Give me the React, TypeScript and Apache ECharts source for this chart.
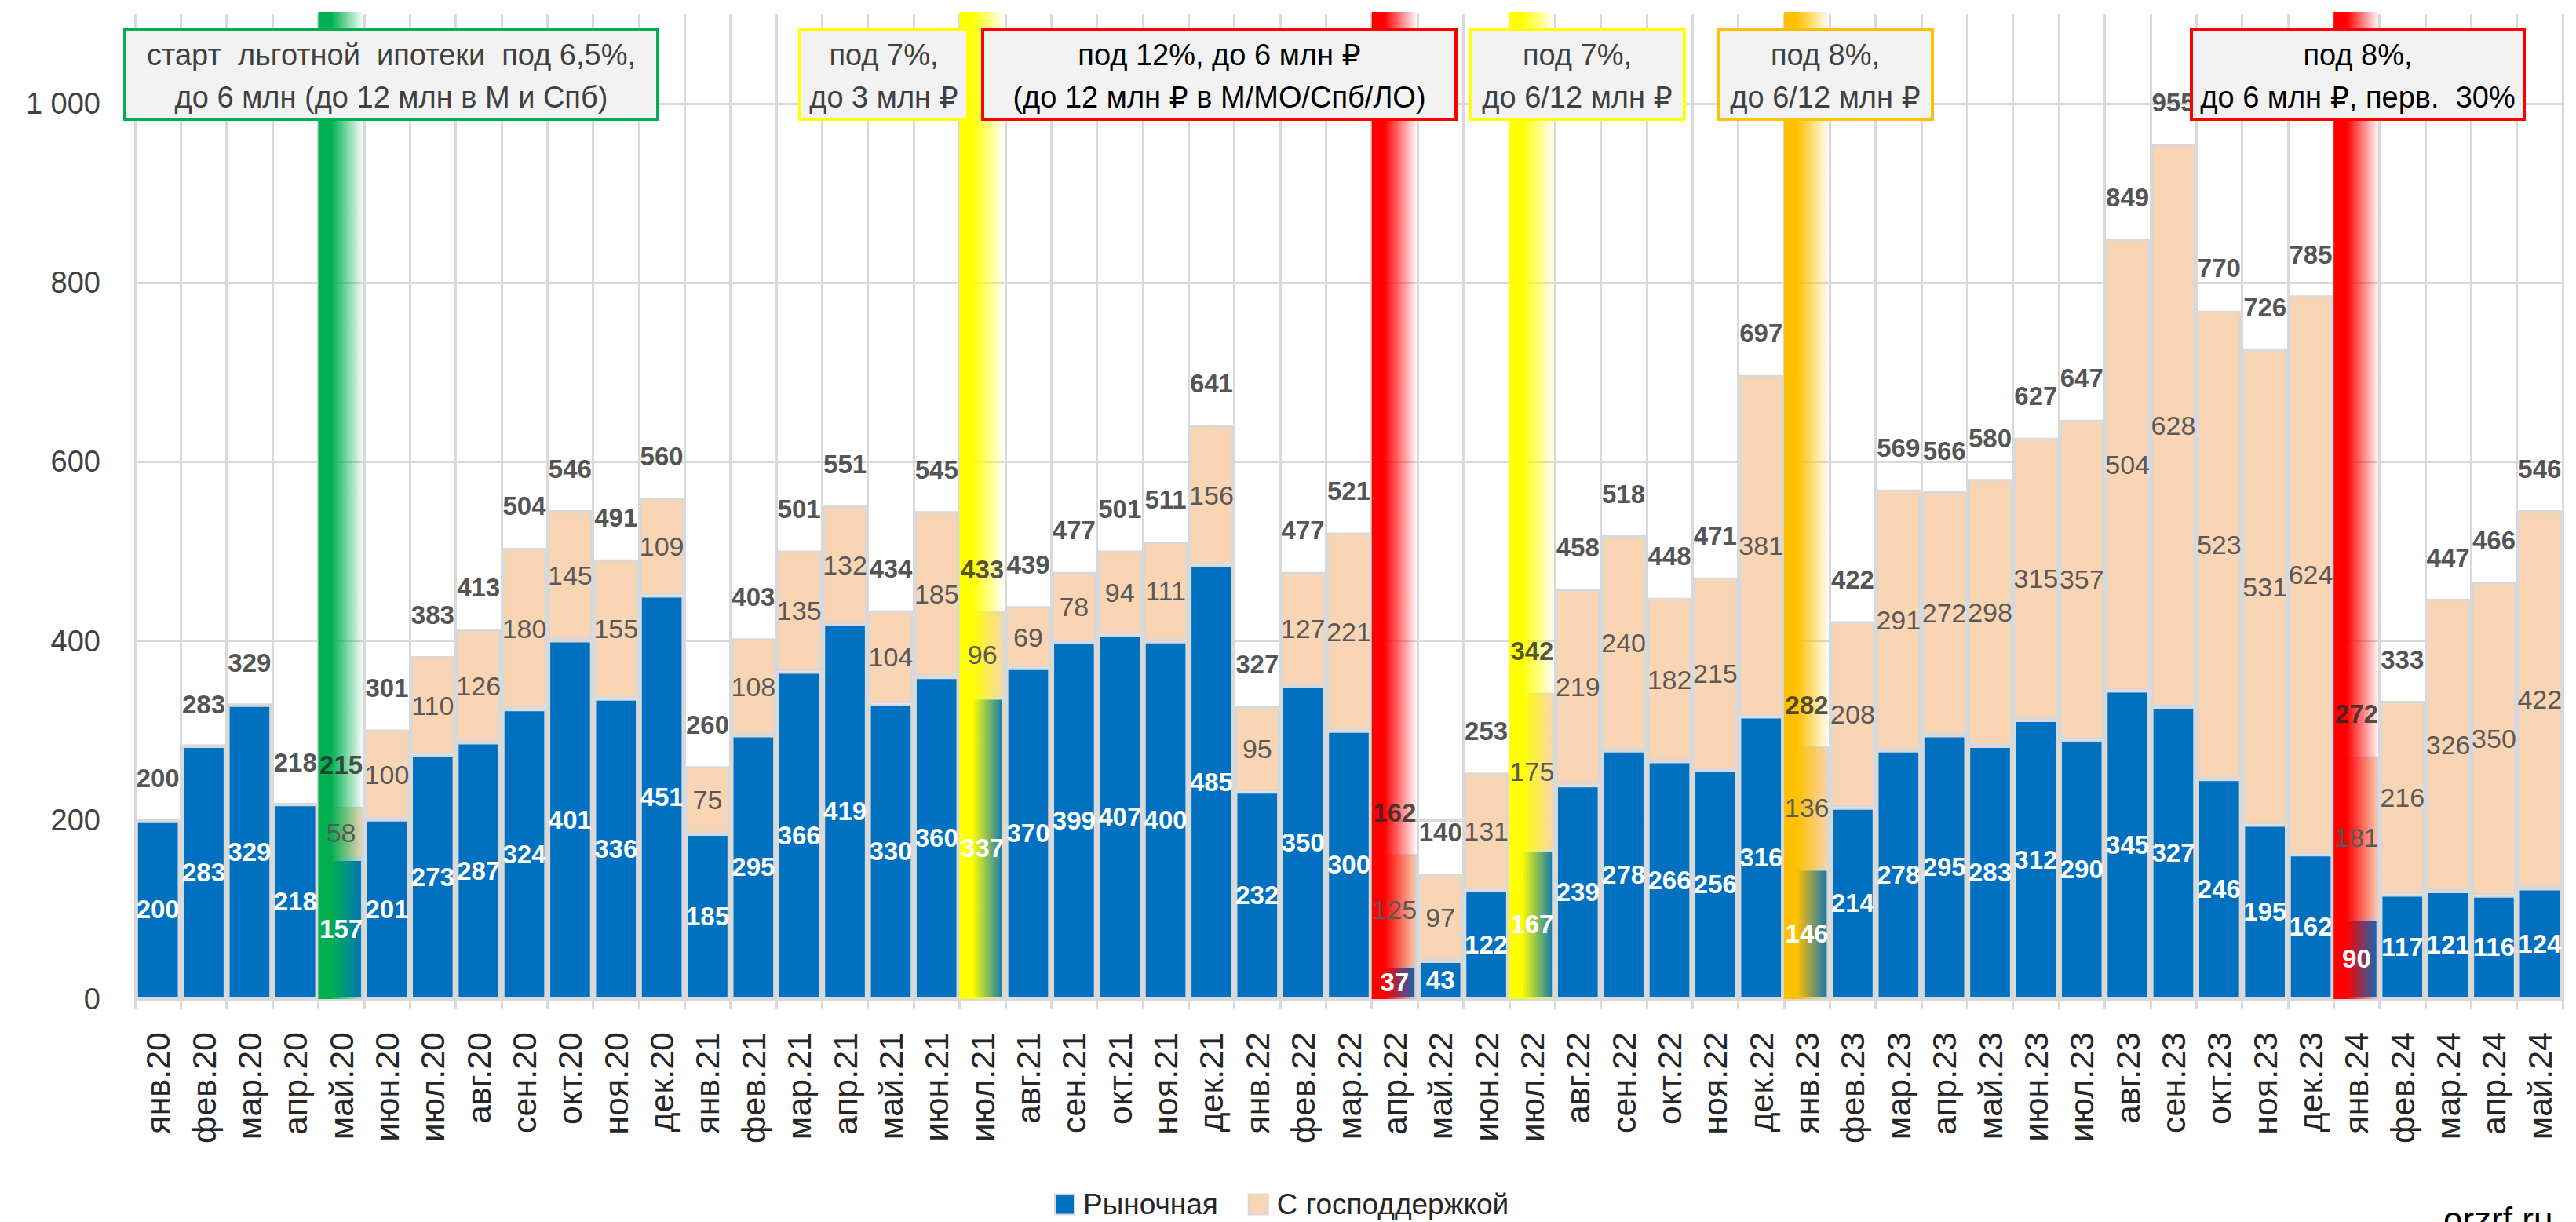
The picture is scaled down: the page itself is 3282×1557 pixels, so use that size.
import React, { useEffect, useRef } from 'react';
import * as echarts from 'echarts';

const months = [
  'янв.20','фев.20','мар.20','апр.20','май.20','июн.20','июл.20','авг.20','сен.20','окт.20','ноя.20','дек.20',
  'янв.21','фев.21','мар.21','апр.21','май.21','июн.21','июл.21','авг.21','сен.21','окт.21','ноя.21','дек.21',
  'янв.22','фев.22','мар.22','апр.22','май.22','июн.22','июл.22','авг.22','сен.22','окт.22','ноя.22','дек.22',
  'янв.23','фев.23','мар.23','апр.23','май.23','июн.23','июл.23','авг.23','сен.23','окт.23','ноя.23','дек.23',
  'янв.24','фев.24','мар.24','апр.24','май.24',
];

const market = [
  200,283,329,218,157,201,273,287,324,401,336,451,
  185,295,366,419,330,360,337,370,399,407,400,485,
  232,350,300,37,43,122,167,239,278,266,256,316,
  146,214,278,295,283,312,290,345,327,246,195,162,
  90,117,121,116,124,
];

const support = [
  0,0,0,0,58,100,110,126,180,145,155,109,
  75,108,135,132,104,185,96,69,78,94,111,156,
  95,127,221,125,97,131,175,219,240,182,215,381,
  136,208,291,272,298,315,357,504,628,523,531,624,
  181,216,326,350,422,
];

const totals = [
  200,283,329,218,215,301,383,413,504,546,491,560,
  260,403,501,551,434,545,433,439,477,501,511,641,
  327,477,521,162,140,253,342,458,518,448,471,697,
  282,422,569,566,580,627,647,849,955,770,726,785,
  272,333,447,466,546,
];

const bandMonths = ['май.20','июл.21','апр.22','июл.22','янв.23','янв.24'];
const bandColors = ['#00B050','#FFFF00','#FF0000','#FFFF00','#FFC000','#FF0000'];

const noteTexts = [
  'старт  льготной  ипотеки  под 6,5%,\nдо 6 млн (до 12 млн в М и Спб)',
  'под 7%,\nдо 3 млн ₽',
  'под 12%, до 6 млн ₽\n(до 12 млн ₽ в М/МО/Спб/ЛО)',
  'под 7%,\nдо 6/12 млн ₽',
  'под 8%,\nдо 6/12 млн ₽',
  'под 8%,\nдо 6 млн ₽, перв.  30%',
];
const noteBorders = ['#00B050','#FFFF00','#FF0000','#FFFF00','#FFC000','#FF0000'];
const noteTextColors = ['#404040','#404040','#000000','#404040','#404040','#000000'];

const seriesNames = ['Рыночная', 'С господдержкой'];
const Y_MAX = 1100;
const FONT = '"Liberation Sans", "DejaVu Sans", Arial, sans-serif';

// box geometry (annotation layout, pixels)
const boxX = [159, 1019, 1252, 1873, 2189, 2792];
const boxR = [838, 1233, 1855, 2146, 2462, 3216];

export default function App() {
  const ref = useRef<HTMLDivElement>(null);

  useEffect(() => {
    document.body.style.margin = '0';
    const chart = echarts.init(ref.current!, undefined, { renderer: 'svg' });

    const bandIdx = bandMonths.map((m) => months.indexOf(m));

    const graphics: any[] = noteTexts.map((t, i) => ({
      type: 'group',
      z: 100,
      children: [
        {
          type: 'rect',
          shape: { x: boxX[i], y: 38, width: boxR[i] - boxX[i], height: 114 },
          style: { fill: '#F2F2F2', stroke: noteBorders[i], lineWidth: 4 },
          z: 100,
        },
        {
          type: 'text',
          style: {
            text: t,
            x: (boxX[i] + boxR[i]) / 2,
            y: 97,
            align: 'center',
            verticalAlign: 'middle',
            fontSize: 38,
            fontFamily: FONT,
            lineHeight: 54,
            fill: noteTextColors[i],
          },
          z: 101,
        },
      ],
    }));
    graphics.push({
      type: 'text',
      z: 100,
      style: {
        text: 'orzrf.ru',
        x: 3113,
        y: 1553,
        verticalAlign: 'middle',
        fontSize: 44,
        fontFamily: FONT,
        fill: '#000000',
      },
    });

    const barCommon = {
      type: 'bar',
      barCategoryGap: '3%',
      barGap: '-100%',
    };

    const option: any = {
      animation: false,
      backgroundColor: '#ffffff',
      grid: {
        left: 172,
        right: 17,
        top: 18,
        bottom: 284,
        containLabel: false,
        outerBoundsMode: 'none',
      },
      legend: {
        data: seriesNames,
        left: 1338,
        top: 1511,
        icon: 'rect',
        itemWidth: 25,
        itemHeight: 26,
        itemGap: 38,
        textStyle: { fontSize: 37, fontFamily: FONT, color: '#262626', padding: [0, 0, 0, 6] },
      },
      xAxis: {
        type: 'category',
        data: months,
        boundaryGap: true,
        axisLine: { show: true, lineStyle: { color: '#D9D9D9', width: 3 } },
        axisTick: { show: true, length: 13, lineStyle: { color: '#D9D9D9', width: 3 } },
        splitLine: { show: true, lineStyle: { color: '#D9D9D9', width: 3 } },
        axisLabel: {
          rotate: 90,
          interval: 0,
          margin: 42,
          fontSize: 43,
          fontFamily: FONT,
          color: '#262626',
        },
      },
      yAxis: {
        type: 'value',
        min: 0,
        max: Y_MAX,
        interval: 200,
        axisLine: { show: false },
        axisTick: { show: false },
        splitLine: { show: true, showMaxLine: false, lineStyle: { color: '#D9D9D9', width: 3 } },
        axisLabel: {
          showMaxLabel: false,
          margin: 44,
          fontSize: 38,
          fontFamily: FONT,
          color: '#404040',
          formatter: (v: number) => String(v).replace(/\B(?=(\d{3})+(?!\d))/g, ' '),
        },
      },
      series: [
        {
          ...barCommon,
          name: seriesNames[0],
          stack: 'a',
          z: 2,
          data: market,
          itemStyle: { color: '#0070C0', borderColor: '#D9D9D9', borderWidth: 3 },
        },
        {
          ...barCommon,
          name: seriesNames[1],
          stack: 'a',
          z: 2,
          data: support,
          itemStyle: { color: '#FAD5B4', borderColor: '#D9D9D9', borderWidth: 3 },
        },
        {
          type: 'custom',
          name: 'bands',
          z: 3,
          silent: true,
          data: bandIdx.map((i) => [i, 0]),
          encode: { x: 0, y: 1 },
          renderItem: (params: any, api: any) => {
            const idx = api.value(0);
            const top = api.coord([idx, Y_MAX]);
            const bottom = api.coord([idx, 0]);
            const w = api.size([1, 0])[0];
            const color = bandColors[params.dataIndex];
            return {
              type: 'rect',
              shape: { x: top[0] - w / 2, y: top[1] - 3, width: w, height: bottom[1] - top[1] + 3 },
              style: {
                fill: new echarts.graphic.LinearGradient(0, 0, 1, 0, [
                  { offset: 0, color: color },
                  { offset: 0.28, color: color },
                  { offset: 1, color: echarts.color.modifyAlpha(color, 0) },
                ]),
              },
            };
          },
        },
        {
          ...barCommon,
          name: 'lblMarket',
          stack: 'b',
          z: 4,
          silent: true,
          data: market,
          itemStyle: { color: 'transparent', borderWidth: 0 },
          label: {
            show: true,
            position: 'inside',
            fontSize: 33,
            fontWeight: 'bold',
            fontFamily: FONT,
            color: '#ffffff',
          },
        },
        {
          ...barCommon,
          name: 'lblSupport',
          stack: 'b',
          z: 4,
          silent: true,
          data: support,
          itemStyle: { color: 'transparent', borderWidth: 0 },
          label: {
            show: true,
            position: 'inside',
            fontSize: 34,
            fontFamily: FONT,
            color: '#595959',
            formatter: (p: any) => (p.value ? String(p.value) : ''),
          },
        },
        {
          type: 'scatter',
          name: 'totals',
          z: 5,
          silent: true,
          data: totals,
          symbolSize: 1,
          itemStyle: { color: 'transparent' },
          label: {
            show: true,
            position: 'top',
            distance: 36,
            fontSize: 33,
            fontWeight: 'bold',
            fontFamily: FONT,
            color: '#262626',
            formatter: (p: any) => String(totals[p.dataIndex]),
          },
        },
      ],
      graphic: graphics,
    };

    chart.setOption(option);
    return () => chart.dispose();
  }, []);

  return <div ref={ref} style={{ width: '3282px', height: '1557px' }} />;
}
